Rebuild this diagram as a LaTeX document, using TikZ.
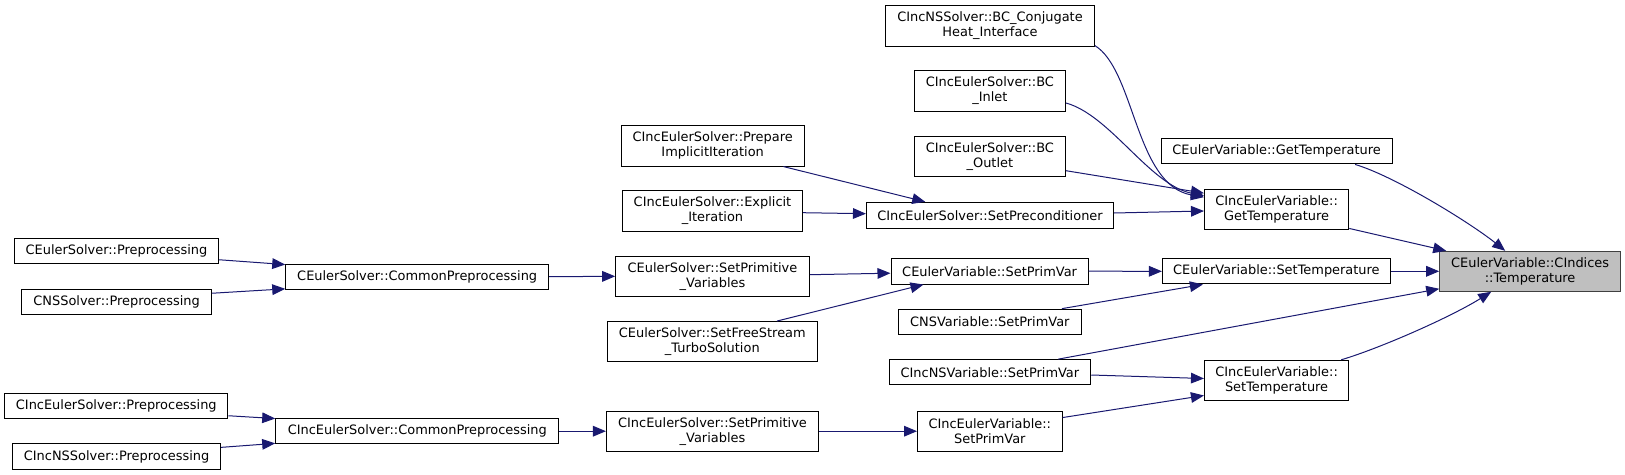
\documentclass[tikz,border=0pt]{standalone}
\usepackage{fontspec}
\setmainfont{DejaVu Sans}
\usetikzlibrary{arrows.meta,calc}
\definecolor{edgec}{HTML}{191970}
\definecolor{tgtfill}{HTML}{BFBFBF}
\definecolor{tgtdraw}{HTML}{404040}
\begin{document}
\begin{tikzpicture}[x=0.75pt,y=-0.75pt,
 box/.style={draw=black, line width=0.75pt, fill=white, inner sep=0pt, align=center, font=\fontsize{9.7}{11.25}\selectfont},
 wh/.style 2 args={minimum width=#1*0.75pt, minimum height=#2*0.75pt},
 callarrow/.style={draw=edgec, line width=0.75pt, -{Triangle[length=9.75pt,width=8pt]}}]
\useasboundingbox (0,0) rectangle (1625,475);

% column 1
\node[box, wh={204}{25.3}] (eprep) at (116.5,251.3) {CEulerSolver::Preprocessing};
\node[box, wh={189.6}{25.3}] (nsprep) at (116.6,302) {CNSSolver::Preprocessing};
\node[box, wh={223.3}{25.3}] (iprep) at (116.3,406) {CIncEulerSolver::Preprocessing};
\node[box, wh={208.2}{25.3}] (insprep) at (116.6,456.5) {CIncNSSolver::Preprocessing};
% column 2
\node[box, wh={262.9}{25.3}] (ecommon) at (417.2,276.7) {CEulerSolver::CommonPreprocessing};
\node[box, wh={283.2}{25.3}] (icommon) at (417.3,431.2) {CIncEulerSolver::CommonPreprocessing};
% column 3
\node[box, wh={183.2}{40.3}] (prepimpl) at (712.7,145.9) {CIncEulerSolver::Prepare\\ImplicitIteration};
\node[box, wh={180}{40.3}] (explicit) at (712.5,211) {CIncEulerSolver::Explicit\\\_Iteration};
\node[box, wh={193.6}{40.3}] (esetprim) at (712.5,276.3) {CEulerSolver::SetPrimitive\\\_Variables};
\node[box, wh={209.6}{40.3}] (freestream) at (712.3,341.7) {CEulerSolver::SetFreeStream\\\_TurboSolution};
\node[box, wh={212.2}{40.3}] (isetprim) at (712.5,431.2) {CIncEulerSolver::SetPrimitive\\\_Variables};
% column 4
\node[box, wh={208.6}{40.3}] (bcconj) at (990,25.9) {CIncNSSolver::BC\_Conjugate\\Heat\_Interface};
\node[box, wh={151.1}{40.3}] (bcinlet) at (989.9,91) {CIncEulerSolver::BC\\\_Inlet};
\node[box, wh={151.1}{40.3}] (bcoutlet) at (989.9,156.5) {CIncEulerSolver::BC\\\_Outlet};
\node[box, wh={247.1}{26}] (setprecond) at (990,215.3) {CIncEulerSolver::SetPreconditioner};
\node[box, wh={197.2}{25.7}] (evsetprimvar) at (989.6,271.2) {CEulerVariable::SetPrimVar};
\node[box, wh={183.2}{25.3}] (nsvsetprimvar) at (989.8,321.8) {CNSVariable::SetPrimVar};
\node[box, wh={201.7}{25.3}] (incnsvsetprimvar) at (989.9,372.3) {CIncNSVariable::SetPrimVar};
\node[box, wh={144.6}{40.3}] (ivsetprimvar) at (989.8,431.2) {CIncEulerVariable::\\SetPrimVar};
% column 5
\node[box, wh={231.1}{25.3}] (evgettemp) at (1276.6,151.3) {CEulerVariable::GetTemperature};
\node[box, wh={144.3}{40.3}] (ivgettemp) at (1276.6,209.8) {CIncEulerVariable::\\GetTemperature};
\node[box, wh={228}{25.3}] (evsettemp) at (1276.4,271.3) {CEulerVariable::SetTemperature};
\node[box, wh={144.3}{40}] (ivsettemp) at (1276.6,380.3) {CIncEulerVariable::\\SetTemperature};
% target
\node[box, wh={180.8}{40}, fill=tgtfill, draw=tgtdraw] (target) at (1530.1,271.3) {CEulerVariable::CIndices\\::Temperature};

% edges
\draw[callarrow] ($(eprep.south east)+(0,-4.7)$) -- ($(ecommon.north west)+(0,1)$);
\draw[callarrow] ($(nsprep.north east)+(0,4.4)$) -- ($(ecommon.south west)+(0,-1)$);
\draw[callarrow] (ecommon.east) -- (esetprim.west);
\draw[callarrow] ($(esetprim.east)+(0,-1.6)$) -- ($(evsetprimvar.west)+(0,2)$);
\draw[callarrow] ($(freestream.north west)+(170,0)$) -- ($(evsetprimvar.south west)+(33,0)$);
\draw[callarrow] (evsetprimvar.east) -- (evsettemp.west);
\draw[callarrow] ($(nsvsetprimvar.north east)+(-20,0)$) -- ($(evsettemp.south west)+(41,0)$);
\draw[callarrow] (evsettemp.east) -- (target.west);

\draw[callarrow] ($(iprep.south east)+(0,-3.4)$) -- ($(icommon.north west)+(0,0.5)$);
\draw[callarrow] ($(insprep.north east)+(0,4)$) -- ($(icommon.south west)+(0,-1)$);
\draw[callarrow] (icommon.east) -- (isetprim.west);
\draw[callarrow] (isetprim.east) -- (ivsetprimvar.west);
\draw[callarrow] ($(ivsetprimvar.north east)+(0,7)$) -- ($(ivsettemp.south west)+(0,-5.3)$);
\draw[callarrow] ($(incnsvsetprimvar.east)+(0,2.7)$) -- ($(ivsettemp.west)+(0,-1.8)$);
\draw[callarrow] ($(incnsvsetprimvar.north east)+(-33,0)$) -- ($(target.south west)+(0,-3)$);
\draw[callarrow] ($(ivsettemp.north east)+(-8,0)$) .. controls +(40,-12) and +(-40,25) .. ($(target.south west)+(52,0)$);
\draw[callarrow] ($(ivgettemp.south east)+(0,-2)$) -- ($(target.north west)+(7,0)$);
\draw[callarrow] ($(evgettemp.south east)+(-37.5,0)$) .. controls +(40,12) and +(-35,-28) .. ($(target.north west)+(66,0)$);

\draw[callarrow] ($(prepimpl.south east)+(-21.4,0)$) -- ($(setprecond.north west)+(59.3,0)$);
\draw[callarrow] ($(explicit.east)+(0,1.7)$) -- ($(setprecond.west)+(0,-1.6)$);
\draw[callarrow] ($(setprecond.east)+(0,-2.3)$) -- ($(ivgettemp.west)+(0,1.2)$);
\draw[callarrow] ($(bcconj.south east)+(0,-1)$) .. controls (1135,70) and (1135,185) .. ($(ivgettemp.north west)+(0,8)$);
\draw[callarrow] ($(bcinlet.east)+(0,12)$) .. controls (1110,115) and (1150,185) .. ($(ivgettemp.north west)+(0,6.5)$);
\draw[callarrow] ($(bcoutlet.east)+(0,14.2)$) -- ($(ivgettemp.north west)+(0,4)$);
\end{tikzpicture}
\end{document}
